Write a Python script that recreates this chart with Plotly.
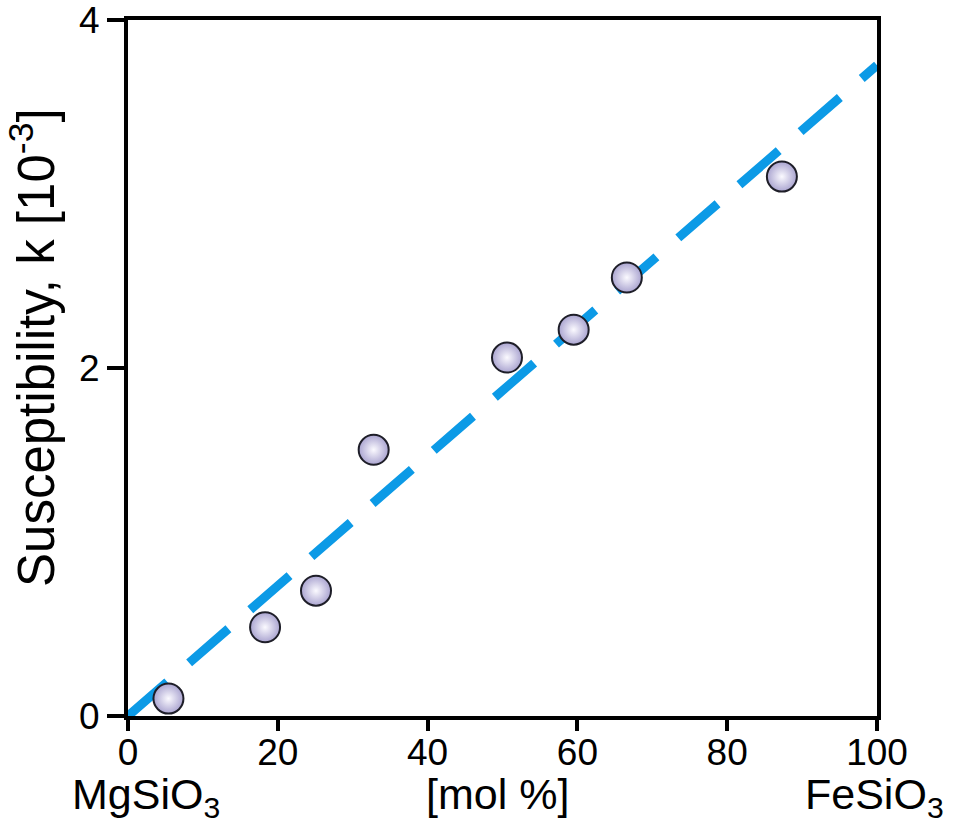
import plotly.graph_objects as go

# data
mol_pct = [5.4, 18.3, 25.1, 32.8, 50.6, 59.5, 66.6, 87.3]
suscept = [0.10, 0.51, 0.72, 1.53, 2.06, 2.22, 2.52, 3.10]
fit_x = [0, 100]
fit_y = [0, 3.74]
x_ticks = [0, 20, 40, 60, 80, 100]
y_ticks = [0, 2, 4]

FONT = "Liberation Sans, Arial, sans-serif"

fig = go.Figure()
fig.add_trace(go.Scatter(
    x=fit_x, y=fit_y, mode="lines",
    line=dict(color="#0c9ae6", width=9, dash="52px,29px"),
    hoverinfo="skip", showlegend=False))
fig.add_trace(go.Scatter(
    x=mol_pct, y=suscept, mode="markers",
    marker=dict(size=30, color="#aaa4d0",
                gradient=dict(type="radial", color="#fbfaff"),
                line=dict(color="#1e1e28", width=2)),
    showlegend=False, cliponaxis=False))

axis_common = dict(showline=True, linecolor="black", linewidth=4, mirror=True,
                   ticks="outside", tickwidth=4, tickcolor="black",
                   showgrid=False, zeroline=False, ticklabeloverflow="allow",
                   tickfont=dict(family=FONT, size=37, color="black"))

fig.update_layout(
    width=961, height=833,
    margin=dict(l=128, r=84, t=20, b=117, autoexpand=False),
    paper_bgcolor="white", plot_bgcolor="white",
    font=dict(family=FONT, color="black"),
    xaxis=dict(range=[0, 100], tickvals=x_ticks, ticklen=11,
               ticklabelstandoff=-10, **axis_common),
    yaxis=dict(range=[0, 4], tickvals=y_ticks, ticklen=17, **axis_common),
    annotations=[
        dict(text="Susceptibility, k [10<sup>-3</sup>]", textangle=-90,
             x=-0.127, y=0.53, xref="paper", yref="paper",
             xanchor="center", yanchor="middle", showarrow=False,
             font=dict(family=FONT, size=51, color="black")),
        dict(text="MgSiO<sub>3</sub>", x=0.024, y=-0.074, xref="paper", yref="paper",
             xanchor="center", yanchor="top", showarrow=False,
             font=dict(family=FONT, size=43, color="black")),
        dict(text="[mol %]", x=0.493, y=-0.074, xref="paper", yref="paper",
             xanchor="center", yanchor="top", showarrow=False,
             font=dict(family=FONT, size=43, color="black")),
        dict(text="FeSiO<sub>3</sub>", x=0.997, y=-0.074, xref="paper", yref="paper",
             xanchor="center", yanchor="top", showarrow=False,
             font=dict(family=FONT, size=43, color="black")),
    ],
)

fig.write_html("out.html")
